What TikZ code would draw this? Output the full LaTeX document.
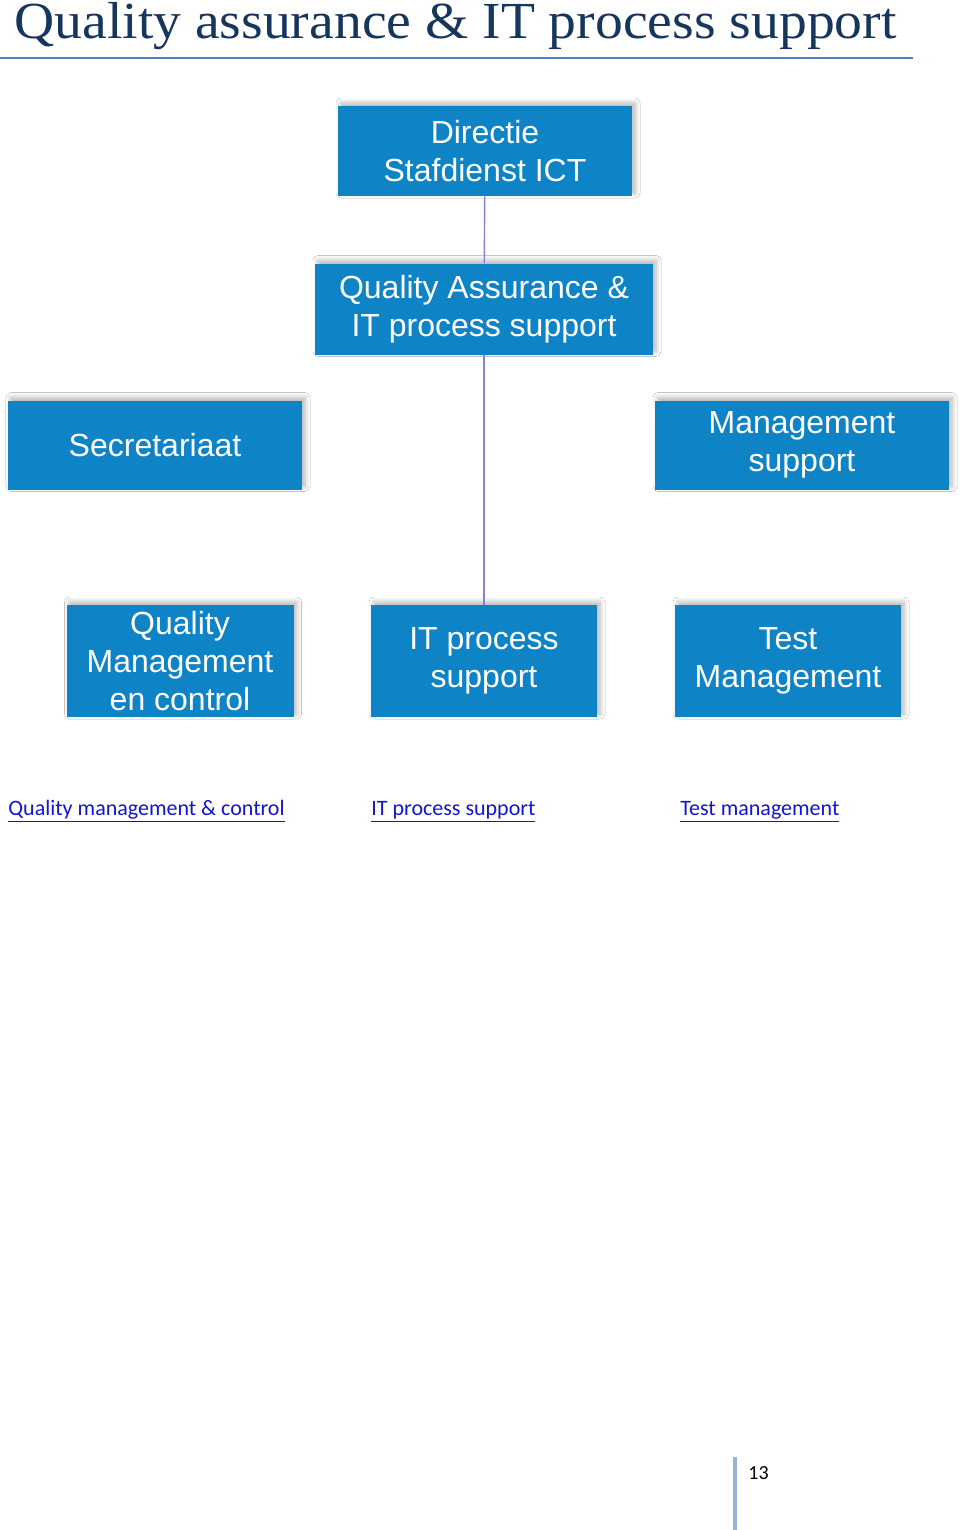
\documentclass[tikz,border=0pt]{standalone}
\usepackage{fontspec}
\setmainfont{Liberation Sans}
\newfontfamily\ttlfont[FakeStretch=1.07]{Liberation Serif}
\newfontfamily\docfont{Carlito}
\usetikzlibrary{positioning,shadows.blur}
\definecolor{boxblue}{RGB}{14,131,197}
\definecolor{conline}{RGB}{130,130,215}
\definecolor{ttlnavy}{RGB}{23,54,93}
\definecolor{rulblue}{RGB}{79,129,189}
\definecolor{lnkblue}{RGB}{20,20,210}
\definecolor{barblue}{RGB}{149,179,215}
\tikzset{
  box/.style={fill=boxblue,text=white,align=center,inner sep=2pt,
              font=\fontsize{16}{19}\selectfont,
              blur shadow={shadow xshift=1.5pt,shadow yshift=1.5pt,
                           shadow blur radius=2.5pt,shadow opacity=30,shadow blur steps=8}},
  con/.style={draw=conline,line width=.7pt},
  lnk/.style={anchor=base west,inner sep=0pt,text=lnkblue,
              font=\docfont\fontsize{11}{13}\selectfont},
}
\begin{document}
\begin{tikzpicture}[x=0.5pt,y=-0.5pt]
  \useasboundingbox[fill=white] (0,0) rectangle (960,1530);
  % heading
  \node[anchor=base west,inner sep=0pt,text=ttlnavy,
        font=\ttlfont\fontsize{26}{30}\selectfont] (ttl) at (14,39)
        {Quality assurance \& IT process support};
  \draw[rulblue,line width=1pt] (0,58) -- (913,58);
  % organisation chart
  \node[box,minimum width=147pt,minimum height=45pt] (dir) at (485,151) {Directie\\Stafdienst ICT};
  \node[box,minimum width=169pt,minimum height=45.5pt] (qa) at (484,309) {Quality Assurance \&\\IT process support};
  \node[box,minimum width=147pt,minimum height=44.5pt] (sec) at (155,445) {Secretariaat};
  \node[box,minimum width=147pt,minimum height=44.5pt] (mgs) at (802,445) {Management\\support};
  \node[box,minimum width=113.5pt,minimum height=56pt] (qmc) at (180,661) {Quality\\Management\\en control};
  \node[box,minimum width=113pt,minimum height=56pt] (itp) at (484,661) {IT process\\support};
  \node[box,minimum width=113pt,minimum height=56pt] (tst) at (788,661) {Test\\Management};
  \draw[con] (dir) -- (qa);
  \draw[con] (qa) -- (itp);
  % links
  \node[lnk] (l1) at (8,815) {\underline{Quality management \& control}};
  \node[lnk] (l2) at (371,815) {\underline{IT process support}};
  \node[lnk] (l3) at (680,815) {\underline{Test management}};
  % page number
  \draw[barblue,line width=2pt] (735,1457) -- (735,1530);
  \node[anchor=base west,inner sep=0pt,font=\docfont\fontsize{10}{12}\selectfont] (pg) at (748,1479) {13};
\end{tikzpicture}
\end{document}
